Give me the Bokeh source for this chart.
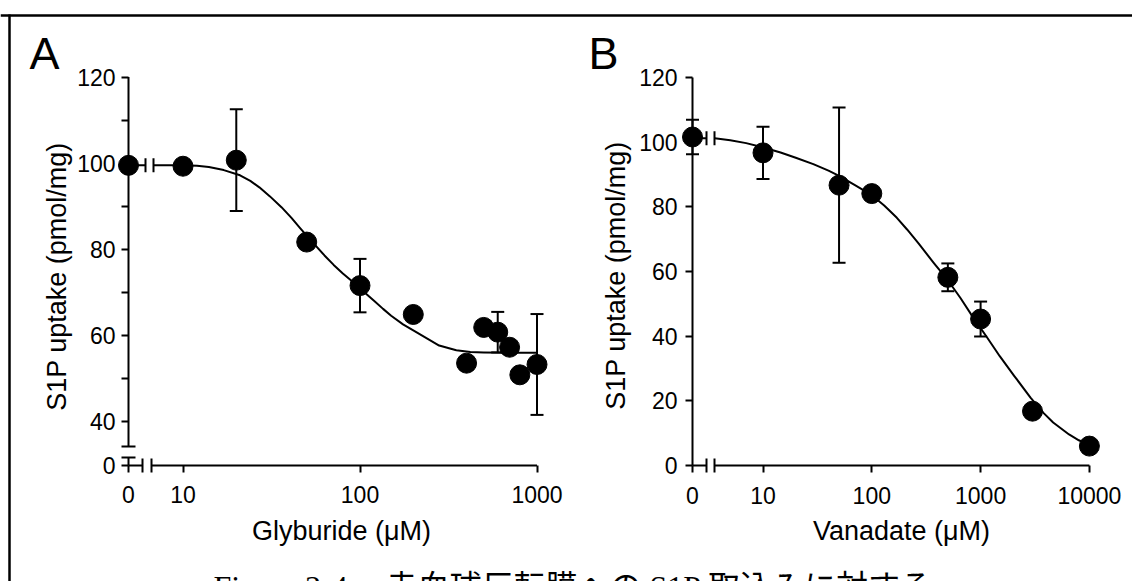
import numpy as np
from bokeh.plotting import figure
from bokeh.models import Range1d, LogScale, LinearScale, LogAxis, LinearAxis, FixedTicker
from bokeh.core.properties import value
from bokeh.embed import file_html
from bokeh.resources import INLINE

# ---------------- data ----------------
# Panel A: Glyburide
gly_conc = [0, 10, 20, 50, 100, 200, 400, 500, 600, 700, 800, 1000]
gly_uptake = [99.5, 99.3, 100.7, 81.7, 71.6, 64.9, 53.6, 61.9, 60.8, 57.3, 50.9, 53.3]
gly_sem = [0, 0, 11.8, 0, 6.2, 0, 0, 0, 4.7, 0, 0, 11.7]
gly_fit_conc = [6.8, 10, 12, 14, 17, 21, 24, 27, 31, 36, 41, 46, 55, 63, 71, 80, 92, 105, 120, 135, 150,
                175, 200, 240, 280, 350, 420, 500, 700, 1000]
gly_fit_uptake = [99.5, 99.5, 99.4, 99.1, 98.4, 97.2, 95.9, 94.4, 92.3, 89.8, 87.3, 84.9, 81.3, 78.6, 76.4,
                  74.4, 72.3, 70.2, 68.1, 66.2, 64.6, 62.6, 61.2, 59.3, 57.7, 56.6, 56.2, 56.1, 56.0, 56.0]
gly_xticks = [0, 10, 100, 1000]
gly_yticks = [0, 40, 60, 80, 100, 120]
gly_yminor = [50, 70, 90, 110]

# Panel B: Vanadate
van_conc = [0, 10, 50, 100, 500, 1000, 3000, 10000]
van_uptake = [101.6, 96.7, 86.7, 84.1, 58.2, 45.3, 16.8, 6.0]
van_sem = [5.3, 8.1, 24.0, 0, 4.3, 5.4, 0, 0]
van_fit_conc = [3.6, 5, 7, 9.5, 14.5, 20, 29, 40, 50, 70, 100, 130, 170, 211, 270, 372, 500, 653, 850,
                1148, 1500, 2018, 2875, 3800, 4645, 6500, 8000, 10000]
van_fit_uptake = [101.2, 100.6, 99.7, 98.6, 96.8, 95.2, 93.2, 91.2, 89.6, 86.7, 83.6, 80.4, 76.6, 73.0,
                  68.6, 62.6, 57.3, 51.8, 45.9, 39.6, 33.8, 27.9, 21.0, 16.2, 13.3, 9.6, 7.8, 6.3]
van_xticks = [0, 10, 100, 1000, 10000]
van_yticks = [0, 20, 40, 60, 80, 100, 120]

ylabel = "S1P uptake (pmol/mg)"
xlabel_a = "Glyburide (μM)"
xlabel_b = "Vanadate (μM)"
caption_head = "Figure 3-4."
caption_body = "赤血球反転膜への S1P 取込みに対する"

# ---------------- layout (picture pixels) ----------------
W, H = 1132, 581
PAGE = 0
A_X10, A_DEC = 182.5, 177.0      # x of "10", px per decade
A_Y120, A_PPU = 76.5, 4.31       # y of "120", px per unit
B_X10, B_DEC = 762.5, 108.8
B_Y0, B_PPU = 465.0, 3.2333
AXIS_Y = 465.0


def ax(px):
    return 10 ** (1 + (px - A_X10) / A_DEC)


def ay(py):
    return 120 - (py - A_Y120) / A_PPU


def bx(px):
    return 10 ** (1 + (px - B_X10) / B_DEC)


def by(py):
    return (B_Y0 - py) / B_PPU


XA0 = round(ax(128), 4)     # where concentration 0 sits in panel A
YA0 = round(ay(AXIS_Y), 4)  # where uptake 0 sits in panel A (broken axis)
XB0 = round(bx(692), 4)

p = figure(width=W, height=H, x_axis_type="log", x_axis_location=None, y_axis_location=None,
           x_range=Range1d(ax(PAGE), ax(PAGE + W)), y_range=Range1d(ay(PAGE + H), ay(PAGE)),
           output_backend="svg", toolbar_location=None, min_border=0, title_location=None)
p.extra_x_ranges = {"B": Range1d(bx(PAGE), bx(PAGE + W))}
p.extra_y_ranges = {"B": Range1d(by(PAGE + H), by(PAGE))}
p.extra_x_scales = {"B": LogScale()}
p.extra_y_scales = {"B": LinearScale()}
p.outline_line_color = None
p.grid.grid_line_color = None
p.background_fill_color = "white"
p.border_fill_color = "white"

RB = dict(x_range_name="B", y_range_name="B")
BLK = dict(line_color="black", line_width=2)
FONT = "Liberation Sans"
SERIF = "Liberation Serif, Noto Sans CJK JP"


def style_axis(a):
    a.axis_line_color = None
    a.major_tick_line_color = "black"
    a.major_tick_line_width = 2
    a.major_tick_in = 0
    a.major_tick_out = 7
    a.minor_tick_line_color = "black"
    a.minor_tick_line_width = 2
    a.minor_tick_in = 0
    a.minor_tick_out = 7
    a.major_label_text_font = FONT
    a.major_label_text_font_size = "23px"
    a.major_label_text_color = "black"


# ---- Panel A axes ----
a_xt = [XA0 if t == 0 else float(t) for t in gly_xticks]
axA = LogAxis(fixed_location=YA0, ticker=FixedTicker(ticks=a_xt),
              major_label_overrides={v: str(t) for v, t in zip(a_xt, gly_xticks)})
style_axis(axA)
axA.major_label_standoff = 14
p.add_layout(axA, "below")

a_yt = [YA0 if t == 0 else float(t) for t in gly_yticks]
ayA = LinearAxis(fixed_location=XA0, ticker=FixedTicker(ticks=a_yt, minor_ticks=gly_yminor),
                 major_label_overrides={v: str(t) for v, t in zip(a_yt, gly_yticks)})
style_axis(ayA)
ayA.major_label_standoff = 6
p.add_layout(ayA, "left")

# ---- Panel B axes ----
b_xt = [XB0 if t == 0 else float(t) for t in van_xticks]
axB = LogAxis(fixed_location=0, ticker=FixedTicker(ticks=b_xt),
              major_label_overrides={v: str(t) for v, t in zip(b_xt, van_xticks)}, **RB)
style_axis(axB)
axB.major_label_standoff = 14
p.add_layout(axB, "below")

b_yt = [float(t) for t in van_yticks]
ayB = LinearAxis(fixed_location=XB0, ticker=FixedTicker(ticks=b_yt),
                 major_label_overrides={v: str(t) for v, t in zip(b_yt, van_yticks)}, **RB)
style_axis(ayB)
ayB.major_label_standoff = 8
p.add_layout(ayB, "left")

# ---- frame border (top and left) ----
p.segment(x0=[ax(PAGE), ax(9)], y0=[ay(15), ay(14)], x1=[ax(PAGE + W), ax(9)], y1=[ay(15), ay(PAGE + H + 20)],
          line_color="black", line_width=2.5)

# ---- Panel A axis lines with breaks ----
p.segment(x0=[XA0, XA0], y0=[ay(446), ay(457)], x1=[XA0, XA0], y1=[120, YA0], **BLK)
p.segment(x0=[ax(121), ax(121)], y0=[ay(446), ay(457)], x1=[ax(135), ax(135)], y1=[ay(446), ay(457)], **BLK)
p.segment(x0=[XA0, ax(151)], y0=[YA0, YA0], x1=[ax(142), 1000], y1=[YA0, YA0], **BLK)
p.segment(x0=[ax(142), ax(151)], y0=[ay(458), ay(458)], x1=[ax(142), ax(151)], y1=[ay(472), ay(472)], **BLK)

# ---- Panel B axis lines with break ----
p.segment(x0=[XB0], y0=[0], x1=[XB0], y1=[120], **BLK, **RB)
p.segment(x0=[XB0, bx(714)], y0=[0, 0], x1=[bx(706), 10000], y1=[0, 0], **BLK, **RB)
p.segment(x0=[bx(706), bx(714)], y0=[by(458), by(458)], x1=[bx(706), bx(714)], y1=[by(472), by(472)], **BLK, **RB)

# ---- fitted curves, with the break between 0 and the log part ----
lvlA = gly_fit_uptake[0]
pyA = A_Y120 + (120 - lvlA) * A_PPU
p.segment(x0=[XA0], y0=[lvlA], x1=[ax(145)], y1=[lvlA], **BLK)
p.segment(x0=[ax(145), ax(153)], y0=[ay(pyA - 7)] * 2, x1=[ax(145), ax(153)], y1=[ay(pyA + 7)] * 2, **BLK)
p.line(gly_fit_conc, gly_fit_uptake, line_color="black", line_width=2, line_join="round")

lvlB = van_fit_uptake[0]
pyB = B_Y0 - lvlB * B_PPU
p.segment(x0=[XB0], y0=[lvlB], x1=[bx(706)], y1=[lvlB], **BLK, **RB)
p.segment(x0=[bx(706), bx(714)], y0=[by(pyB + 7)] * 2, x1=[bx(706), bx(714)], y1=[by(pyB - 7)] * 2, **BLK, **RB)
p.line(van_fit_conc, van_fit_uptake, line_color="black", line_width=2, line_join="round", **RB)


# ---- error bars and points ----
def points(conc, val, err, zero, rk):
    xs = [zero if c == 0 else c for c in conc]
    sel = [i for i, e in enumerate(err) if e > 0]
    ex = [xs[i] for i in sel]
    lo = [val[i] - err[i] for i in sel]
    hi = [val[i] + err[i] for i in sel]
    p.segment(x0=ex, y0=lo, x1=ex, y1=hi, line_color="black", line_width=2, **rk)
    p.scatter(ex + ex, lo + hi, marker="dash", size=13, line_color="black", line_width=2, **rk)
    p.scatter(xs, val, size=20, fill_color="black", line_color="black", **rk)


points(gly_conc, gly_uptake, gly_sem, XA0, {})
points(van_conc, van_uptake, van_sem, XB0, RB)

# ---- texts ----
p.text(x=[ax(29)], y=[ay(53)], text=["A"], text_font=value(FONT), text_font_size="45px",
       text_baseline="alphabetic", text_align="left", text_color="black")
p.text(x=[bx(588)], y=[by(53)], text=["B"], text_font=value(FONT), text_font_size="45px",
       text_baseline="alphabetic", text_align="left", text_color="black", **RB)

p.text(x=[ax(56)], y=[ay(276)], text=[ylabel], angle=np.pi / 2, text_font=value(FONT), text_font_size="27px",
       text_baseline="middle", text_align="center", text_color="black")
p.text(x=[bx(615)], y=[by(275)], text=[ylabel], angle=np.pi / 2, text_font=value(FONT), text_font_size="27px",
       text_baseline="middle", text_align="center", text_color="black", **RB)

p.text(x=[ax(341)], y=[ay(530)], text=[xlabel_a], text_font=value(FONT), text_font_size="27px",
       text_baseline="alphabetic", text_align="center", text_color="black")
p.text(x=[bx(901)], y=[by(530)], text=[xlabel_b], text_font=value(FONT), text_font_size="27px",
       text_baseline="alphabetic", text_align="center", text_color="black", **RB)

# caption: the reference shows only the top of this line, cut by the picture's lower edge
p.text(x=[ax(213), ax(385)], y=[ay(586), ay(586)], text=[caption_head, caption_body],
       text_font=value(SERIF), text_font_size="32px", text_baseline="alphabetic", text_align="left",
       text_color="black")

open("out.html", "w").write(file_html(p, INLINE))
